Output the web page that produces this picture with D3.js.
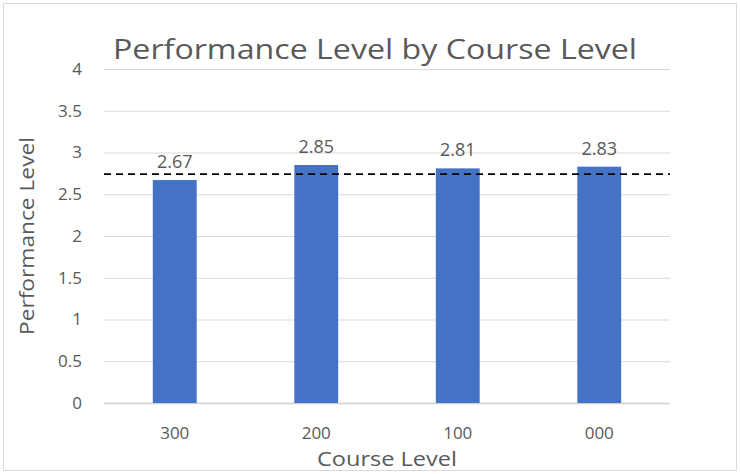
<!DOCTYPE html>
<html>
<head>
<meta charset="utf-8">
<script src="https://cdn.jsdelivr.net/npm/d3@7"></script>
<style>
  body { margin: 0; background: #fff; }
  text { font-family: "Open Sans", "Noto Sans", sans-serif; fill: #595959; }
</style>
</head>
<body>
<div id="chart"></div>
<script>
var categories = ["300", "200", "100", "000"];
var values = [2.67, 2.85, 2.81, 2.83];
var yTicks = [0, 0.5, 1, 1.5, 2, 2.5, 3, 3.5, 4];
var targetLevel = 2.74;

var width = 740, height = 474;
var margin = {top: 69, right: 70, bottom: 71, left: 104};
var innerW = width - margin.left - margin.right,
    innerH = height - margin.top - margin.bottom;

var svg = d3.select('#chart').append('svg')
    .attr('width', width)
    .attr('height', height);

// outer chart border
svg.append('rect')
    .attr('x', 3.5).attr('y', 3.5)
    .attr('width', width - 7).attr('height', height - 7)
    .attr('fill', '#fff')
    .attr('stroke', '#d9d9d9');

var g = svg.append('g')
    .attr('transform', 'translate(' + margin.left + ',' + margin.top + ')');

var x = d3.scaleBand()
    .domain(categories)
    .range([0, innerW])
    .paddingInner(0.69)
    .paddingOuter(0.345);

var y = d3.scaleLinear()
    .domain([0, 4])
    .range([innerH, 0]);

// gridlines
g.append('g')
    .selectAll('line')
    .data(yTicks)
    .enter().append('line')
    .attr('x1', 0).attr('x2', innerW)
    .attr('y1', function(d) { return y(d) + 0.5; })
    .attr('y2', function(d) { return y(d) + 0.5; })
    .attr('stroke', function(d) { return d === 0 ? '#d0d0d0' : '#d9d9d9'; })
    .attr('stroke-width', function(d) { return d === 0 ? 1.5 : 1; });

// y axis
var yAxis = d3.axisLeft(y)
    .tickValues(yTicks)
    .tickSize(0)
    .tickPadding(22)
    .tickFormat(function(d) { return String(d); });

g.append('g')
    .attr('class', 'y axis')
    .call(yAxis)
    .call(function(s) { s.select('.domain').remove(); })
    .selectAll('text')
    .style('font-size', '17px')
    .attr('fill', '#595959');

// x axis
var xAxis = d3.axisBottom(x)
    .tickSize(0)
    .tickPadding(24);

g.append('g')
    .attr('class', 'x axis')
    .attr('transform', 'translate(0,' + innerH + ')')
    .call(xAxis)
    .call(function(s) { s.select('.domain').remove(); })
    .selectAll('text')
    .style('font-size', '17px')
    .attr('fill', '#595959');

// bars
g.append('g')
    .selectAll('rect')
    .data(values)
    .enter().append('rect')
    .attr('x', function(d, i) { return x(categories[i]); })
    .attr('y', function(d) { return y(d); })
    .attr('width', x.bandwidth())
    .attr('height', function(d) { return innerH - y(d); })
    .attr('fill', '#4472c4');

// data labels
g.append('g')
    .selectAll('text')
    .data(values)
    .enter().append('text')
    .attr('x', function(d, i) { return x(categories[i]) + x.bandwidth() / 2; })
    .attr('y', function(d) { return y(d) - 12; })
    .attr('text-anchor', 'middle')
    .style('font-size', '18px')
    .text(function(d) { return d.toFixed(2); });

// target dashed line
g.append('line')
    .attr('x1', 0).attr('x2', innerW)
    .attr('y1', y(targetLevel)).attr('y2', y(targetLevel))
    .attr('stroke', '#000')
    .attr('stroke-width', 1.8)
    .attr('stroke-dasharray', '7,5');

// titles
svg.append('text')
    .attr('x', 375).attr('y', 59)
    .attr('text-anchor', 'middle')
    .style('font-size', '28px')
    .attr('textLength', 524)
    .attr('lengthAdjust', 'spacingAndGlyphs')
    .text('Performance Level by Course Level');

svg.append('text')
    .attr('x', margin.left + innerW / 2).attr('y', 466)
    .attr('text-anchor', 'middle')
    .style('font-size', '20px')
    .attr('textLength', 140)
    .attr('lengthAdjust', 'spacingAndGlyphs')
    .text('Course Level');

svg.append('text')
    .attr('transform', 'translate(34,' + (margin.top + innerH / 2) + ')rotate(-90)')
    .attr('text-anchor', 'middle')
    .style('font-size', '20px')
    .attr('textLength', 198)
    .attr('lengthAdjust', 'spacingAndGlyphs')
    .text('Performance Level');
</script>
</body>
</html>
